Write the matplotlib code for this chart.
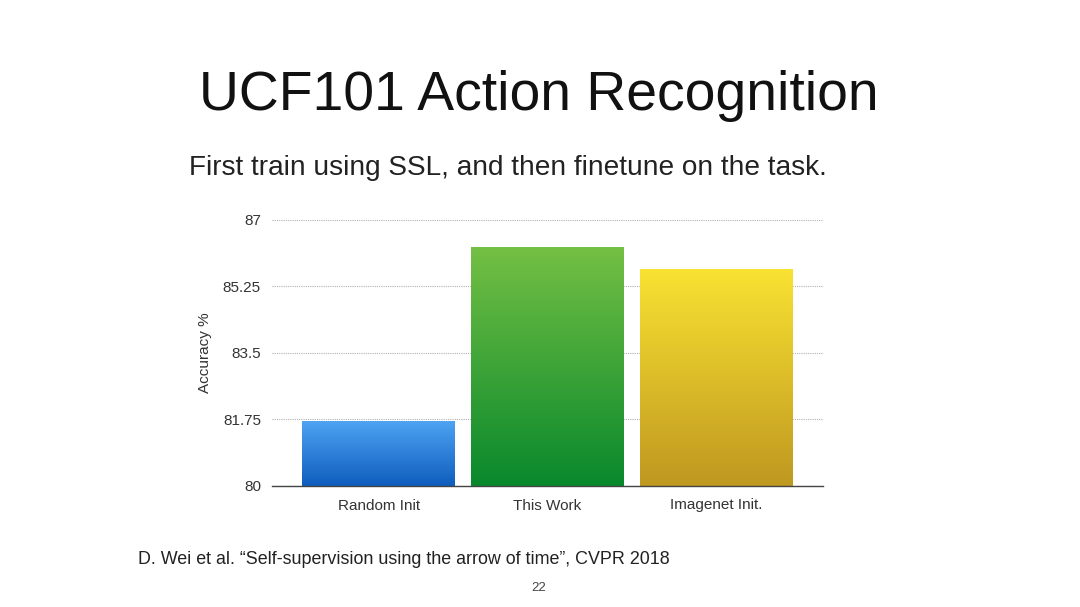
import numpy as np
import matplotlib
matplotlib.use("Agg")
import matplotlib.pyplot as plt
from matplotlib.colors import LinearSegmentedColormap

plt.rcParams['font.family'] = ['Liberation Sans', 'DejaVu Sans']

categories = ["Random Init", "This Work", "Imagenet Init."]
accuracy = [81.7, 86.3, 85.7]
yticks = [80, 81.75, 83.5, 85.25, 87]
# top / bottom colour of each bar's gradient
grad_top = ["#4ea3f2", "#74c044", "#f9e232"]
grad_bottom = ["#0e5dbd", "#08882c", "#bf9820"]

fig = plt.figure(figsize=(10.8, 6.07), dpi=100)
ax = fig.add_axes([272 / 1080, 1 - 486 / 607, 551 / 1080, 266 / 607])

x = np.arange(len(categories))
bars = ax.bar(x, [a - 80 for a in accuracy], bottom=80, width=0.908,
              color="none", edgecolor="none", zorder=2)

grad = np.linspace(0, 1, 256).reshape(-1, 1)
for b, top, bot in zip(bars, grad_top, grad_bottom):
    cmap = LinearSegmentedColormap.from_list("g", [bot, top])
    x0, y0 = b.get_x(), b.get_y()
    im = ax.imshow(grad, cmap=cmap, aspect="auto", origin="lower",
                   extent=[x0, x0 + b.get_width(), y0, y0 + b.get_height()],
                   zorder=2)
    im.set_clip_path(b)

ax.set_xlim(-0.635, 2.635)
ax.set_ylim(80, 87)
ax.set_yticks(yticks)
ax.set_yticklabels(["80", "81.75", "83.5", "85.25", "87"])
ax.set_xticks(x)
ax.set_xticklabels(categories)
ax.tick_params(length=0, labelsize=11, colors="#333333", pad=8)
ax.tick_params(axis="x", pad=9)
ax.grid(axis="y", color="#b0b0b0", linestyle=(0, (1, 1)), linewidth=0.8, zorder=0)
for s in ["top", "right", "left"]:
    ax.spines[s].set_visible(False)
ax.spines["bottom"].set_color("#444444")
ax.spines["bottom"].set_linewidth(1.0)
ax.spines["bottom"].set_zorder(3)
ax.set_ylabel("Accuracy %", fontsize=11, color="#333333", labelpad=8)

fig.text(539 / 1080, 1 - 96 / 607, "UCF101 Action Recognition", ha="center", va="center",
         fontsize=39.8, color="#111111")
fig.text(507.5 / 1080, 1 - 168 / 607, "First train using SSL, and then finetune on the task.",
         ha="center", va="center", fontsize=20.2, color="#222222")
fig.text(138 / 1080, 1 - 559 / 607,
         "D. Wei et al. \u201cSelf-supervision using the arrow of time\u201d, CVPR 2018",
         ha="left", va="center", fontsize=12.9, color="#222222")
fig.text(539 / 1080, 1 - 588 / 607, "22", ha="center", va="center",
         fontsize=9.5, color="#444444")

fig.savefig("out.png", dpi=100)
